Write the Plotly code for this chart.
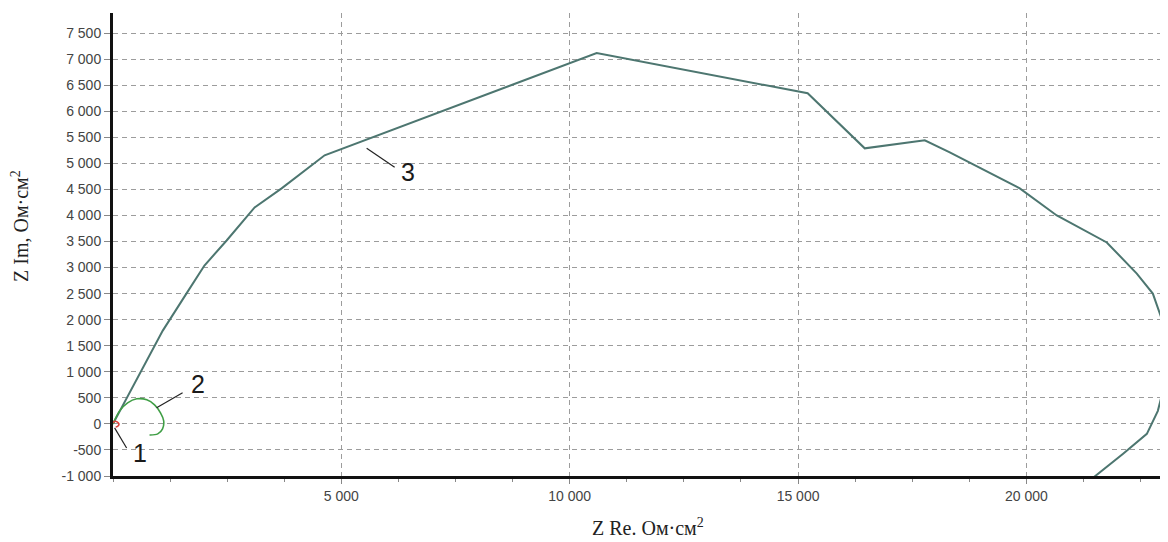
import plotly.graph_objects as go

# Curve 3 (Nyquist, dark teal)
re3 = [0, 1090, 1607, 2002, 2488, 3101, 3692, 4415, 4634, 10590,
       12900, 15210, 16460, 17774, 18322, 19855, 20665, 21760, 22417, 22768, 23075, 23250,
       23097, 22878, 22637, 22111, 21454, 21000]
im3 = [0, 1790, 2500, 3039, 3519, 4154, 4519, 5000, 5154, 7115,
       6730, 6346, 5288, 5442, 5212, 4519, 4000, 3481, 2885, 2500, 1731, 1300,
       1019, 250, -192, -577, -1038, -1350]

# Curve 2 (small green loop)
re2 = [0, 145, 320, 520, 740, 910, 1040, 1110, 1085, 980, 800]
im2 = [0, 250, 404, 481, 462, 365, 212, 58, -96, -192, -212]

# Curve 1 (tiny red arc at origin)
re1 = [0, 40, 90, 130, 110, 60]
im1 = [20, 50, 40, 0, -40, -60]

y_ticks = [-1000, -500, 0, 500, 1000, 1500, 2000, 2500, 3000, 3500, 4000,
           4500, 5000, 5500, 6000, 6500, 7000, 7500]
y_ticktext = ["-1 000", "-500", "0", "500", "1 000", "1 500", "2 000", "2 500", "3 000",
              "3 500", "4 000", "4 500", "5 000", "5 500", "6 000", "6 500", "7 000", "7 500"]
x_ticks = [5000, 10000, 15000, 20000]
x_ticktext = ["5 000", "10 000", "15 000", "20 000"]

# Curve labels: (text, text_x, text_y, leader_x0, leader_y0, leader_x1, leader_y1)
labels = [
    ("1", 600, -560, 298, -462, 35, -77),
    ("2", 1870, 770, 1524, 596, 955, 308),
    ("3", 6470, 4830, 6167, 4923, 5554, 5288),
]

fig = go.Figure()
fig.add_trace(go.Scatter(x=re3, y=im3, mode="lines",
                         line=dict(color="#4d7670", width=2), showlegend=False))
fig.add_trace(go.Scatter(x=re2, y=im2, mode="lines", line_shape="spline",
                         line=dict(color="#3f9e45", width=1.6), showlegend=False))
fig.add_trace(go.Scatter(x=re1, y=im1, mode="lines", line_shape="spline",
                         line=dict(color="#d9403a", width=1.6), showlegend=False))

for txt, tx, ty, x0, y0, x1, y1 in labels:
    fig.add_shape(type="line", x0=x0, y0=y0, x1=x1, y1=y1, xref="x", yref="y",
                  line=dict(color="#222222", width=1.2))
    fig.add_annotation(x=tx, y=ty, text=txt, showarrow=False, xref="x", yref="y",
                       font=dict(family="Liberation Sans, Arial", size=25, color="#1a1a1a"))

fig.add_annotation(text="Z Re. Ом·см<sup>2</sup>", xref="paper", yref="paper",
                   x=(648 - 113) / (1168 - 113), y=-(527 - 476) / (476 - 13),
                   showarrow=False, xanchor="center", yanchor="middle",
                   font=dict(family="Liberation Serif, Times New Roman", size=20, color="#222"))
fig.add_annotation(text="Z Im, Ом·см<sup>2</sup>", xref="paper", yref="paper",
                   x=-(113 - 20) / (1168 - 113), y=(476 - 226) / (476 - 13),
                   showarrow=False, xanchor="center", yanchor="middle", textangle=-90,
                   font=dict(family="Liberation Serif, Times New Roman", size=20, color="#222"))

grid_style = dict(showgrid=True, gridcolor="#9c9c9c", gridwidth=1.4, griddash="5px,4px")

fig.update_xaxes(range=[0, 23100], tickvals=x_ticks, ticktext=x_ticktext,
                 showline=True, linecolor="#111", linewidth=3, zeroline=False,
                 ticks="outside", ticklen=5, tickcolor="#888", tickwidth=1,
                 minor=dict(dtick=1250, ticks="outside", ticklen=3, tickcolor="#888", showgrid=False),
                 tickfont=dict(family="Liberation Sans, Arial", size=14, color="#444"),
                 **grid_style)
fig.update_yaxes(range=[-1000, 7885], tickvals=y_ticks, ticktext=y_ticktext,
                 showline=True, linecolor="#111", linewidth=3, zeroline=False,
                 ticks="outside", ticklen=6, tickcolor="#888", tickwidth=1,
                 tickfont=dict(family="Liberation Sans, Arial", size=14, color="#444"),
                 **grid_style)

# page body adds an 8px offset; figure size and margins compensate so the plot
# area lands at x 113..1168, y 13..476 in the window without scrollbars
fig.update_layout(width=1160, height=534, margin=dict(l=105, r=0, t=5, b=66),
                  paper_bgcolor="white", plot_bgcolor="white", showlegend=False)

fig.write_html("out.html")
